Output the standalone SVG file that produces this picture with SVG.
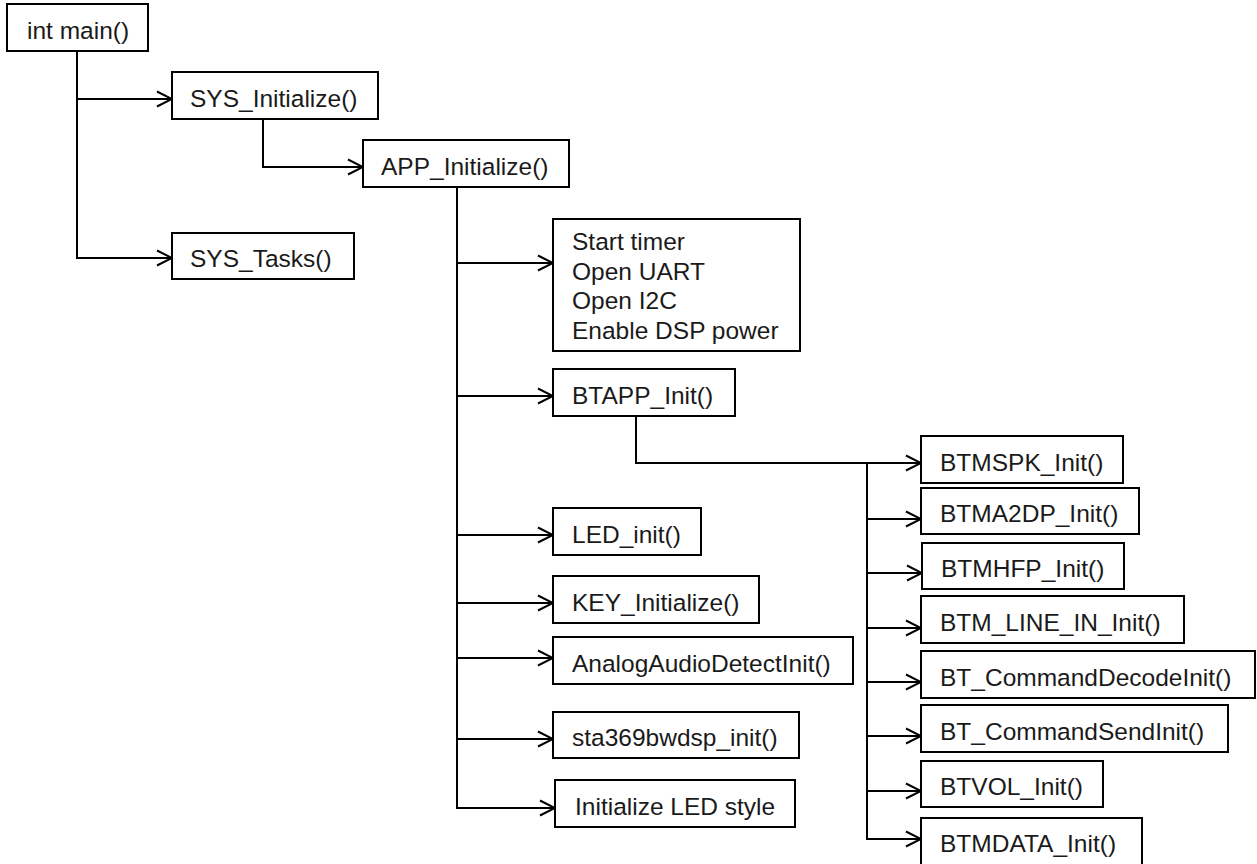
<svg xmlns="http://www.w3.org/2000/svg" width="1257" height="864" viewBox="0 0 1257 864">
<style>
.box{fill:#fff;stroke:#000;stroke-width:2}
.lbl{font-family:"Liberation Sans",Arial,sans-serif;font-size:24.5px;fill:#1a1a1a}
.con{fill:none;stroke:#000;stroke-width:2}
.arr{fill:none;stroke:#000;stroke-width:2;marker-end:url(#chev)}
</style>
<defs>
<marker id="chev" markerUnits="userSpaceOnUse" viewBox="-16 -10 18 20" markerWidth="18" markerHeight="20" refX="0" refY="0" orient="auto">
<path d="M-15,-7.5 L0,0 L-15,7.5" fill="none" stroke="#000" stroke-width="2"/>
</marker>
</defs>
<rect width="1257" height="864" fill="#fff"/>
<g id="connectors">
<path class="con" d="M77,51 V99"/>
<path class="arr" d="M77,99 H172"/>
<path class="arr" d="M77,99 V258 H172"/>
<path class="arr" d="M263,119 V167 H363"/>
<path class="arr" d="M457,187 V808 H555"/>
<path class="arr" d="M457,263 H553"/>
<path class="arr" d="M457,396 H553"/>
<path class="arr" d="M457,535 H553"/>
<path class="arr" d="M457,603 H553"/>
<path class="arr" d="M457,658 H553"/>
<path class="arr" d="M457,739 H553"/>
<path class="arr" d="M636,416 V463 H921"/>
<path class="arr" d="M867,463 V839 H921"/>
<path class="arr" d="M867,519 H921"/>
<path class="arr" d="M867,573 H922"/>
<path class="arr" d="M867,628 H921"/>
<path class="arr" d="M867,682 H921"/>
<path class="arr" d="M867,736 H921"/>
<path class="arr" d="M867,791 H921"/>
</g>
<g id="n-main"><rect class="box" x="7" y="4" width="141" height="47"/><text class="lbl" x="27" y="39">int main()</text></g>
<g id="n-sysinit"><rect class="box" x="172" y="72" width="206" height="47"/><text class="lbl" x="190" y="107">SYS_Initialize()</text></g>
<g id="n-appinit"><rect class="box" x="363" y="140" width="206" height="47"/><text class="lbl" x="381" y="175">APP_Initialize()</text></g>
<g id="n-systasks"><rect class="box" x="172" y="233" width="182" height="46"/><text class="lbl" x="190" y="267">SYS_Tasks()</text></g>
<g id="n-start"><rect class="box" x="553" y="219" width="247" height="132"/>
<text class="lbl" x="572" y="250">Start timer</text>
<text class="lbl" x="572" y="280">Open UART</text>
<text class="lbl" x="572" y="309">Open I2C</text>
<text class="lbl" x="572" y="339">Enable DSP power</text></g>
<g id="n-btapp"><rect class="box" x="553" y="369" width="182" height="47"/><text class="lbl" x="572" y="404">BTAPP_Init()</text></g>
<g id="n-led"><rect class="box" x="553" y="508" width="148" height="47"/><text class="lbl" x="572" y="543">LED_init()</text></g>
<g id="n-key"><rect class="box" x="553" y="576" width="206" height="47"/><text class="lbl" x="572" y="611">KEY_Initialize()</text></g>
<g id="n-analog"><rect class="box" x="553" y="637" width="300" height="47"/><text class="lbl" x="572" y="672">AnalogAudioDetectInit()</text></g>
<g id="n-sta"><rect class="box" x="553" y="712" width="246" height="46"/><text class="lbl" x="572" y="746">sta369bwdsp_init()</text></g>
<g id="n-ledstyle"><rect class="box" x="555" y="780" width="240" height="47"/><text class="lbl" x="575" y="815">Initialize LED style</text></g>
<g id="n-btmspk"><rect class="box" x="921" y="436" width="202" height="47"/><text class="lbl" x="940" y="471">BTMSPK_Init()</text></g>
<g id="n-btma2dp"><rect class="box" x="921" y="488" width="218" height="46"/><text class="lbl" x="940" y="522">BTMA2DP_Init()</text></g>
<g id="n-btmhfp"><rect class="box" x="922" y="543" width="202" height="46"/><text class="lbl" x="941" y="577">BTMHFP_Init()</text></g>
<g id="n-btmlinein"><rect class="box" x="921" y="596" width="263" height="47"/><text class="lbl" x="940" y="631">BTM_LINE_IN_Init()</text></g>
<g id="n-btcmddec"><rect class="box" x="921" y="651" width="334" height="47"/><text class="lbl" x="940" y="686">BT_CommandDecodeInit()</text></g>
<g id="n-btcmdsend"><rect class="box" x="921" y="705" width="307" height="47"/><text class="lbl" x="940" y="740">BT_CommandSendInit()</text></g>
<g id="n-btvol"><rect class="box" x="921" y="761" width="182" height="46"/><text class="lbl" x="940" y="795">BTVOL_Init()</text></g>
<g id="n-btmdata"><rect class="box" x="921" y="818" width="221" height="50"/><text class="lbl" x="940" y="852">BTMDATA_Init()</text></g>
</svg>
